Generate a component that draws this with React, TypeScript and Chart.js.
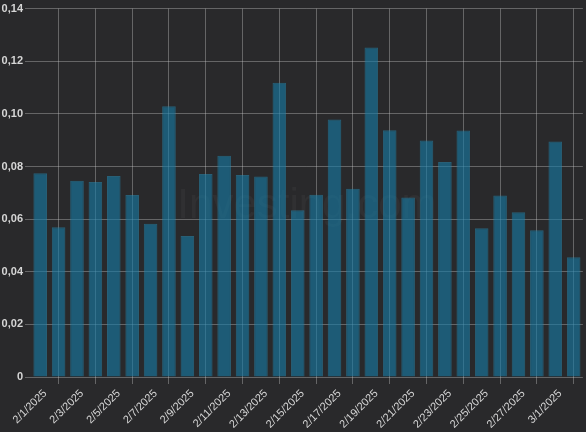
import React, { useEffect, useRef } from "react";
import { Chart, registerables } from "chart.js";

Chart.register(...registerables);

const dates = [
  "2/1/2025", "2/2/2025", "2/3/2025", "2/4/2025", "2/5/2025", "2/6/2025",
  "2/7/2025", "2/8/2025", "2/9/2025", "2/10/2025", "2/11/2025", "2/12/2025",
  "2/13/2025", "2/14/2025", "2/15/2025", "2/16/2025", "2/17/2025", "2/18/2025",
  "2/19/2025", "2/20/2025", "2/21/2025", "2/22/2025", "2/23/2025", "2/24/2025",
  "2/25/2025", "2/26/2025", "2/27/2025", "2/28/2025", "3/1/2025", "3/2/2025",
];

const values = [
  0.0774, 0.0569, 0.0746, 0.0741, 0.0764, 0.0692,
  0.0582, 0.1029, 0.0536, 0.0771, 0.0841, 0.0768,
  0.0762, 0.1118, 0.0634, 0.0693, 0.0979, 0.0715,
  0.1252, 0.0938, 0.0682, 0.0899, 0.0817, 0.0937,
  0.0565, 0.0690, 0.0626, 0.0558, 0.0895, 0.0455,
];

const yMin = 0;
const yMax = 0.14;
const yStep = 0.02;

const BG = "#29292b";
const GRID = "rgba(200,200,200,0.38)";
const TEXT = "#d6d6d6";

export default function App() {
  const canvasRef = useRef<HTMLCanvasElement | null>(null);

  useEffect(() => {
    document.body.style.margin = "0";
    const canvas = canvasRef.current;
    if (!canvas) return;

    const watermark = {
      id: "watermark",
      beforeDatasetsDraw(chart: any) {
        const { ctx, chartArea } = chart;
        ctx.save();
        ctx.font = "42px 'Liberation Sans', Arial, sans-serif";
        ctx.fillStyle = "rgba(255,255,255,0.035)";
        ctx.textAlign = "center";
        ctx.textBaseline = "middle";
        ctx.fillText("Investing.com", (chartArea.left + chartArea.right) / 2, 206);
        ctx.restore();
      },
    };

    const chart = new Chart(canvas, {
      type: "bar",
      data: {
        labels: dates,
        datasets: [
          {
            data: values,
            backgroundColor: "rgba(22,122,165,0.62)",
            borderColor: "rgba(40,140,180,0.55)",
            borderWidth: 1,
            categoryPercentage: 1,
            barPercentage: 0.74,
          },
        ],
      },
      options: {
        animation: false,
        responsive: false,
        maintainAspectRatio: false,
        layout: { padding: { top: 2, right: 0, left: 0, bottom: 0 } },
        plugins: {
          legend: { display: false },
          tooltip: { enabled: false },
        },
        scales: {
          x: {
            offset: true,
            grid: {
              offset: false,
              color: (ctx: any) => (ctx.index % 2 === 1 ? GRID : "rgba(0,0,0,0)"),
              tickColor: (ctx: any) => (ctx.index % 2 === 1 ? GRID : "rgba(0,0,0,0)"),
              tickLength: 7,
              lineWidth: 1,
            },
            border: { display: false },
            ticks: {
              autoSkip: false,
              minRotation: 45,
              maxRotation: 45,
              padding: 3,
              labelOffset: 5,
              color: TEXT,
              font: { family: "'Liberation Sans', Arial, sans-serif", size: 11 },
              callback: (_v: any, i: number) => (i % 2 === 0 ? dates[i] : ""),
            },
            afterFit: (s: any) => {
              s.height = 55;
            },
          },
          y: {
            min: yMin,
            max: yMax,
            grid: {
              color: GRID,
              tickColor: GRID,
              tickLength: 6,
            },
            border: { display: false },
            ticks: {
              stepSize: yStep,
              padding: 2,
              color: TEXT,
              font: { family: "'Liberation Sans', Arial, sans-serif", size: 11, weight: "bold" },
              callback: (v: any) => (Number(v) === 0 ? "0" : Number(v).toFixed(2).replace(".", ",")),
            },
            afterFit: (s: any) => {
              s.width = 31;
            },
          },
        },
      },
      plugins: [watermark],
    });

    return () => chart.destroy();
  }, []);

  return (
    <div style={{ position: "absolute", left: 0, top: 0, width: 586, height: 432, background: BG }}>
      <canvas ref={canvasRef} width={586} height={432} style={{ display: "block" }} />
    </div>
  );
}
